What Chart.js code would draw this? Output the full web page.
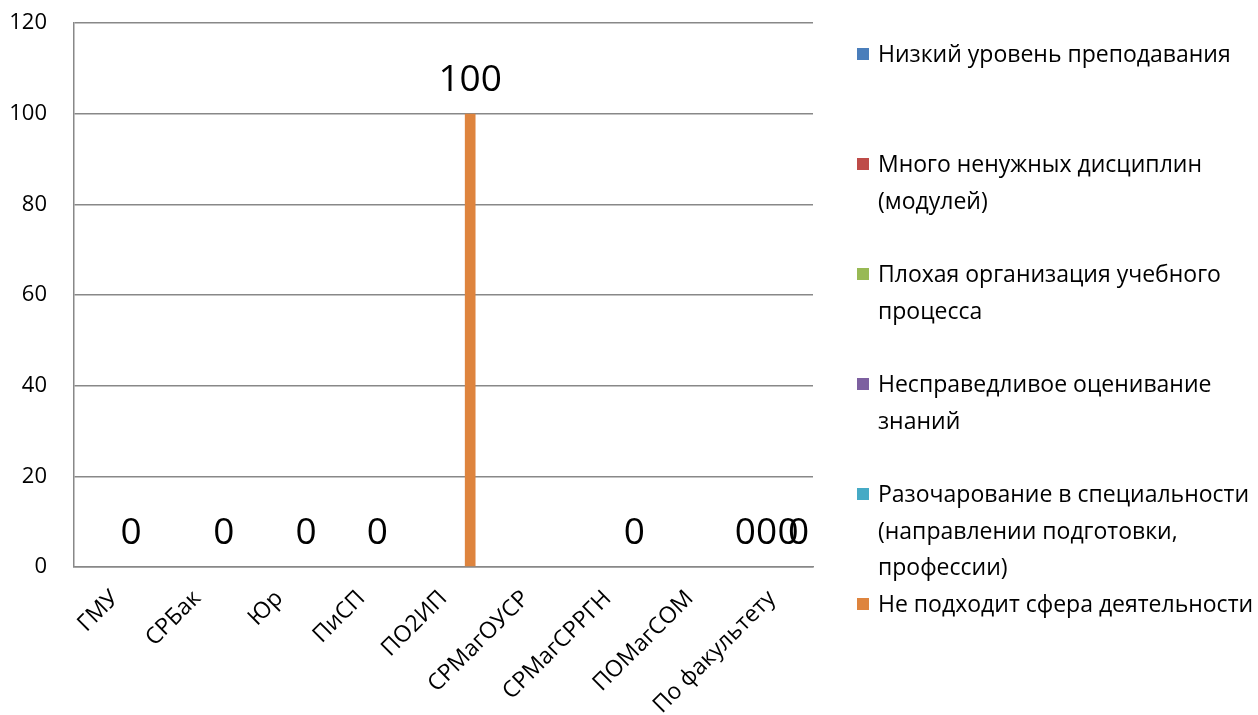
<!DOCTYPE html>
<html>
<head>
<meta charset="utf-8">
<script src="https://cdn.jsdelivr.net/npm/chart.js@4.4.1/dist/chart.umd.min.js"></script>
<style>
  html, body { margin: 0; padding: 0; background: #fff; }
  #wrap { position: relative; width: 1258px; height: 715px; overflow: hidden; }
  #legend { position: absolute; left: 857px; top: 0; font-family: "Open Sans", sans-serif; font-size: 23px; color: #000; }
  .item { position: absolute; left: 0; display: flex; align-items: flex-start; line-height: 36.5px; }
  .box { width: 12px; height: 12px; margin-top: 13px; margin-right: 9px; flex: none; }
  .txt { width: 380px; }
</style>
</head>
<body>
<div id="wrap">
  <canvas id="chart" width="1258" height="715"></canvas>
  <div id="legend"></div>
</div>
<script>
const categories = ["ГМУ", "СРБак", "Юр", "ПиСП", "ПО2ИП", "СРМагОУСР", "СРМагСРРГН", "ПОМагСОМ", "По факультету"];

const seriesNames = [
  "Низкий уровень преподавания",
  "Много ненужных дисциплин (модулей)",
  "Плохая организация учебного процесса",
  "Несправедливое оценивание знаний",
  "Разочарование в специальности (направлении подготовки, профессии)",
  "Не подходит сфера деятельности"
];
const seriesColors = ["#4A7EBB", "#BE4B48", "#98B954", "#7D60A0", "#46AAC5", "#DE843E"];

// null = no value in that cell, 0 = labelled zero
const lowTeaching     = [null, null, null, null, null, null, null, null, 0];
const uselessModules  = [null, null, null, null, null, null, null, null, null];
const badOrganisation = [null, null, null, null, null, null, null, null, 0];
const unfairGrading   = [null, null, null, null, null, null, null, null, null];
const disappointment  = [0, null, null, 0, null, null, null, null, 0];
const wrongField      = [null, 0, 0, null, 100, null, 0, null, 0];

const seriesValues = [lowTeaching, uselessModules, badOrganisation, unfairGrading, disappointment, wrongField];

const yTicks = [0, 20, 40, 60, 80, 100, 120];

const gridColor = "#888888";

// value labels above each bar that has a value
const valueLabels = {
  id: "valueLabels",
  afterDatasetsDraw(chart) {
    const ctx = chart.ctx;
    ctx.save();
    ctx.font = '37px "Open Sans"';
    ctx.fillStyle = "#000";
    ctx.textAlign = "center";
    ctx.textBaseline = "alphabetic";
    chart.data.datasets.forEach((ds, i) => {
      chart.getDatasetMeta(i).data.forEach((bar, j) => {
        const v = ds.data[j];
        if (v === null || v === undefined) return;
        ctx.fillText(String(v), bar.x, bar.y - 23);
      });
    });
    ctx.restore();
  }
};

new Chart(document.getElementById("chart"), {
  type: "bar",
  data: {
    labels: categories,
    datasets: seriesNames.map((name, i) => ({
      label: name,
      data: seriesValues[i],
      backgroundColor: seriesColors[i],
      borderWidth: 0,
      categoryPercentage: 0.78,
      barPercentage: 1.0
    }))
  },
  options: {
    responsive: false,
    animation: false,
    layout: { padding: { top: 23, right: 445, left: 0, bottom: 0 } },
    plugins: {
      legend: { display: false },
      tooltip: { enabled: false }
    },
    scales: {
      y: {
        min: 0,
        max: 120,
        afterBuildTicks: (s) => { s.ticks = yTicks.map(v => ({ value: v })); },
        afterFit: (s) => {
          s.width = 74;
          s.paddingTop = 0;
          s.paddingBottom = 0;
        },
        ticks: {
          padding: 27,
          color: "#000",
          font: { family: "Open Sans", size: 22 }
        },
        grid: { color: gridColor, lineWidth: 1.5, drawTicks: false },
        border: { display: true, color: gridColor, width: 1.5 }
      },
      x: {
        afterFit: (s) => {
          s.height = 148;
          s.paddingTop = 0;
        },
        ticks: {
          minRotation: 45,
          maxRotation: 45,
          autoSkip: false,
          padding: 18,
          color: "#000",
          font: { family: "Open Sans", size: 23 }
        },
        grid: { display: false, drawTicks: false },
        border: { display: true, color: gridColor, width: 1.5 }
      }
    }
  },
  plugins: [valueLabels]
});

// legend on the right, one fixed slot per series
const legend = document.getElementById("legend");
seriesNames.forEach((name, i) => {
  const item = document.createElement("div");
  item.className = "item";
  item.style.top = (35 + i * 110) + "px";
  item.innerHTML = `<span class="box" style="background:${seriesColors[i]}"></span><span class="txt">${name}</span>`;
  legend.appendChild(item);
});
</script>
</body>
</html>
